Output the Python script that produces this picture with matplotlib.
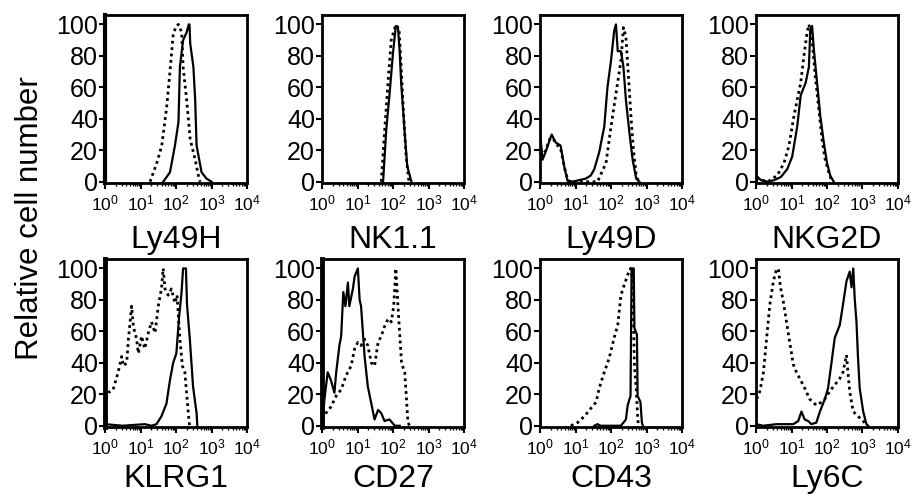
import numpy as np
import matplotlib
matplotlib.use("Agg")
import matplotlib.pyplot as plt
from matplotlib.ticker import LogLocator, FixedLocator

plt.rcParams['font.family'] = ['Liberation Sans', 'DejaVu Sans']
plt.rcParams['mathtext.fontset'] = 'custom'
plt.rcParams['mathtext.rm'] = 'Liberation Sans'
plt.rcParams['mathtext.it'] = 'Liberation Sans:italic'
plt.rcParams['mathtext.bf'] = 'Liberation Sans:bold'

# ---------------- data (x given as log10 of fluorescence) ----------------
markers = ["Ly49H", "NK1.1", "Ly49D", "NKG2D", "KLRG1", "CD27", "CD43", "Ly6C"]
y_ticks = [0, 20, 40, 60, 80, 100]
x_decades = [0, 1, 2, 3, 4]

ly49h_solid_x = [1.64, 1.83, 1.97, 2.07, 2.11, 2.20, 2.30, 2.36, 2.38, 2.40, 2.49, 2.54, 2.58, 2.72, 2.86, 3.00]
ly49h_solid_y = [0, 6, 23, 38, 73, 90, 95, 100, 100, 88, 73, 52, 23, 6, 2, 0]
ly49h_dot_x = [1.27, 1.46, 1.60, 1.74, 1.83, 1.92, 2.00, 2.07, 2.16, 2.20, 2.30, 2.40, 2.54, 2.63, 2.68]
ly49h_dot_y = [0, 12, 23, 48, 70, 93, 99, 100, 95, 73, 52, 27, 14, 4, 0]

nk11_solid_x = [1.72, 1.81, 1.90, 2.00, 2.08, 2.14, 2.19, 2.23, 2.33, 2.40, 2.52]
nk11_solid_y = [0, 33, 55, 82, 99, 98, 82, 63, 31, 10, 0]
nk11_dot_x = [1.67, 1.76, 1.86, 1.95, 2.08, 2.17, 2.23, 2.30, 2.37, 2.45]
nk11_dot_y = [0, 31, 63, 90, 100, 97, 73, 42, 16, 0]

ly49d_solid_x = [0.00, 0.02, 0.07, 0.16, 0.25, 0.33, 0.44, 0.58, 0.68, 0.77, 0.92, 1.10, 1.29, 1.43, 1.53,
                 1.67, 1.81, 1.90, 2.00, 2.09, 2.14, 2.19, 2.28, 2.35, 2.42, 2.52, 2.61, 2.71, 2.80]
ly49d_solid_y = [30, 27, 14, 19, 25, 30, 25, 23, 10, 1, 0, 1, 2, 4, 8,
                 19, 35, 60, 77, 96, 100, 83, 83, 73, 52, 31, 14, 2, 0]
ly49d_dot_x = [0.00, 0.05, 0.16, 0.27, 0.35, 0.46, 0.58, 0.70, 0.80, 1.20, 1.62, 1.86, 2.00, 2.14, 2.28,
               2.35, 2.42, 2.50, 2.57, 2.63, 2.71, 2.78]
ly49d_dot_y = [25, 16, 20, 27, 28, 24, 21, 8, 0, 0, 0, 12, 35, 56, 77,
               98, 92, 64, 39, 21, 4, 0]

nkg2d_solid_x = [0.00, 0.14, 0.33, 0.51, 0.70, 0.88, 1.02, 1.16, 1.26, 1.40, 1.49, 1.53, 1.58, 1.63,
                 1.72, 1.81, 1.91, 2.00, 2.09, 2.19]
nkg2d_solid_y = [4, 1, 0, 1, 3, 8, 16, 35, 55, 63, 73, 97, 99, 84,
                 63, 42, 25, 12, 4, 0]
nkg2d_dot_x = [0.00, 0.33, 0.60, 0.79, 0.93, 1.07, 1.16, 1.26, 1.35, 1.44, 1.49, 1.58, 1.67, 1.77,
               1.86, 1.95, 2.05, 2.14]
nkg2d_dot_y = [2, 0, 4, 12, 23, 42, 52, 63, 80, 95, 100, 90, 67, 46,
               27, 14, 6, 0]

klrg1_solid_x = [0.00, 0.50, 1.12, 1.31, 1.45, 1.59, 1.73, 1.83, 1.92, 2.01, 2.09, 2.15, 2.20, 2.28,
                 2.31, 2.39, 2.48, 2.58, 2.60]
klrg1_solid_y = [1, 0, 1, 0, 1, 6, 14, 29, 40, 46, 70, 83, 100, 100,
                 77, 55, 25, 8, 0]
klrg1_dot_x = [0.03, 0.09, 0.23, 0.37, 0.47, 0.52, 0.61, 0.66, 0.75, 0.80, 0.89, 0.94, 1.03, 1.12,
               1.22, 1.31, 1.41, 1.50, 1.59, 1.64, 1.69, 1.78, 1.87, 1.97, 2.03, 2.11, 2.18, 2.25,
               2.29, 2.37, 2.39]
klrg1_dot_y = [17, 21, 23, 34, 44, 38, 40, 55, 76, 63, 55, 46, 57, 49,
               59, 66, 59, 76, 87, 100, 87, 83, 87, 78, 83, 55, 38, 34,
               23, 2, 0]

cd27_solid_x = [0.02, 0.07, 0.16, 0.25, 0.35, 0.40, 0.49, 0.54, 0.60, 0.66, 0.73, 0.77, 0.87, 0.92,
                1.01, 1.06, 1.10, 1.20, 1.29, 1.39, 1.48, 1.58, 1.67, 1.76, 1.90, 2.05, 2.19]
cd27_solid_y = [4, 17, 34, 29, 21, 34, 51, 57, 85, 76, 91, 76, 87, 95,
                100, 80, 76, 44, 25, 14, 4, 10, 8, 3, 4, 0, 0]
cd27_dot_x = [0.02, 0.11, 0.25, 0.40, 0.54, 0.68, 0.82, 0.92, 1.01, 1.10, 1.20, 1.29, 1.39, 1.48,
              1.58, 1.67, 1.76, 1.86, 1.95, 2.02, 2.08, 2.14, 2.24, 2.33, 2.38, 2.42, 2.47]
cd27_dot_y = [4, 8, 12, 19, 23, 32, 38, 49, 53, 51, 55, 51, 40, 38,
              53, 57, 63, 68, 66, 76, 100, 76, 40, 34, 17, 2, 0]

cd43_solid_x = [1.53, 1.62, 1.70, 2.28, 2.42, 2.47, 2.55, 2.58, 2.64, 2.66, 2.73, 2.75, 2.83, 2.87, 2.90]
cd43_solid_y = [0, 1, 0, 0, 4, 13, 19, 100, 100, 62, 58, 19, 15, 2, 0]
cd43_dot_x = [0.87, 1.06, 1.25, 1.43, 1.58, 1.67, 1.81, 1.95, 2.09, 2.19, 2.28, 2.38, 2.47, 2.55,
              2.61, 2.66, 2.71, 2.75, 2.77]
cd43_dot_y = [0, 2, 6, 11, 15, 24, 34, 43, 56, 64, 83, 90, 96, 100,
              92, 38, 24, 6, 0]

ly6c_solid_x = [0.00, 0.20, 0.58, 0.86, 1.05, 1.19, 1.28, 1.37, 1.47, 1.56, 1.70, 1.80, 1.94, 2.03,
                2.12, 2.22, 2.36, 2.45, 2.55, 2.64, 2.69, 2.74, 2.78, 2.83, 2.87, 2.92, 3.02, 3.11, 3.16]
ly6c_solid_y = [1, 0, 1, 1, 1, 3, 9, 4, 3, 1, 2, 9, 17, 24,
                39, 56, 64, 77, 92, 98, 88, 100, 81, 66, 45, 24, 9, 1, 0]
ly6c_dot_x = [0.02, 0.11, 0.21, 0.30, 0.39, 0.49, 0.56, 0.63, 0.69, 0.77, 0.86, 0.95, 1.05, 1.14,
              1.28, 1.37, 1.51, 1.70, 1.84, 1.94, 2.08, 2.22, 2.36, 2.45, 2.55, 2.59, 2.64, 2.69,
              2.74, 2.92, 3.02, 3.11]
ly6c_dot_y = [17, 22, 34, 56, 77, 92, 98, 100, 88, 79, 66, 53, 39, 34,
              28, 24, 17, 13, 15, 17, 22, 26, 30, 34, 45, 34, 22, 15,
              9, 5, 3, 0]

solid_series = [(ly49h_solid_x, ly49h_solid_y), (nk11_solid_x, nk11_solid_y),
                (ly49d_solid_x, ly49d_solid_y), (nkg2d_solid_x, nkg2d_solid_y),
                (klrg1_solid_x, klrg1_solid_y), (cd27_solid_x, cd27_solid_y),
                (cd43_solid_x, cd43_solid_y), (ly6c_solid_x, ly6c_solid_y)]
dotted_series = [(ly49h_dot_x, ly49h_dot_y), (nk11_dot_x, nk11_dot_y),
                 (ly49d_dot_x, ly49d_dot_y), (nkg2d_dot_x, nkg2d_dot_y),
                 (klrg1_dot_x, klrg1_dot_y), (cd27_dot_x, cd27_dot_y),
                 (cd43_dot_x, cd43_dot_y), (ly6c_dot_x, ly6c_dot_y)]

# ---------------- layout ----------------
W, H = 918, 496
fig = plt.figure(figsize=(W / 100, H / 100), dpi=100)
lefts_px = [105, 322, 540, 756]
tops_px = [15, 259]
aw, ah = 142, 168
left_spine_w = [3.0, 2.0, 2.0, 2.0, 3.5, 3.5, 2.0, 2.0]

for i, name in enumerate(markers):
    r, c = divmod(i, 4)
    ax = fig.add_axes([lefts_px[c] / W, (H - tops_px[r] - ah) / H, aw / W, ah / H])
    sx, sy = solid_series[i]
    dx, dy = dotted_series[i]
    ax.plot(10 ** np.array(dx), dy, color='black', lw=2.0, ls=(0, (1.0, 1.3)))
    ax.plot(10 ** np.array(sx), sy, color='black', lw=1.6)
    ax.set_xscale('log')
    ax.set_xlim(1, 1e4)
    ax.set_ylim(-0.8, 106)
    ax.xaxis.set_major_locator(FixedLocator([10 ** d for d in x_decades]))
    ax.xaxis.set_minor_locator(LogLocator(base=10, subs=np.arange(2, 10) * 1.0, numticks=20))
    ax.xaxis.set_minor_formatter(plt.NullFormatter())
    ax.set_yticks(y_ticks)
    ax.tick_params(axis='y', labelsize=18, length=4, width=1.5, pad=1, direction='out')
    ax.tick_params(axis='x', which='major', labelsize=12.5, length=4, width=1.5, pad=3.5, direction='out')
    ax.tick_params(axis='x', which='minor', length=2, width=1.0, direction='out')
    for s in ax.spines.values():
        s.set_linewidth(2.0)
    ax.spines['left'].set_linewidth(left_spine_w[i])
    ax.text(0.5, -0.34 if r == 0 else -0.31, name, transform=ax.transAxes,
            ha='center', va='center', fontsize=23)

fig.text(30 / W, (H - 218) / H, "Relative cell number", rotation=90,
         ha='center', va='center', fontsize=22.5)

fig.savefig("out.png", dpi=100)
